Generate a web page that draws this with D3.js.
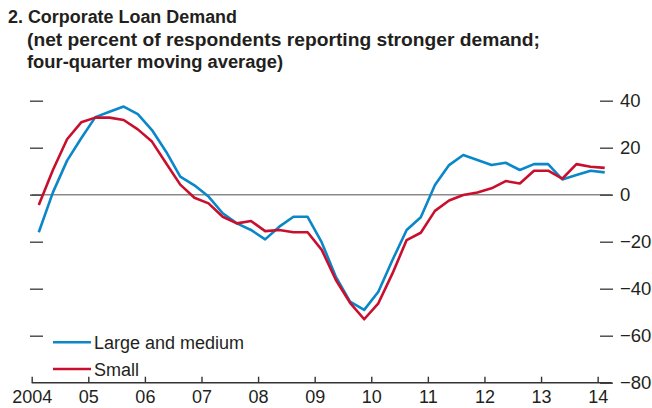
<!DOCTYPE html>
<html>
<head>
<meta charset="utf-8">
<script src="https://cdn.jsdelivr.net/npm/d3@7"></script>
<style>
  body { margin: 0; background: #fff; }
  svg { display: block; font-family: "Liberation Sans", Arial, sans-serif; }
</style>
</head>
<body>
<svg id="svg" width="652" height="408"></svg>
<script>
const quarters = [
  '2004Q1', '2004Q2', '2004Q3', '2004Q4', '2005Q1', '2005Q2', '2005Q3', '2005Q4',
  '2006Q1', '2006Q2', '2006Q3', '2006Q4', '2007Q1', '2007Q2', '2007Q3', '2007Q4',
  '2008Q1', '2008Q2', '2008Q3', '2008Q4', '2009Q1', '2009Q2', '2009Q3', '2009Q4',
  '2010Q1', '2010Q2', '2010Q3', '2010Q4', '2011Q1', '2011Q2', '2011Q3', '2011Q4',
  '2012Q1', '2012Q2', '2012Q3', '2012Q4', '2013Q1', '2013Q2', '2013Q3', '2013Q4',
  '2014Q1'
];

const largeMedium = [
  -16, 1, 14.5, 24, 33, 35.3, 37.5, 34.3,
  27.5, 18.3, 7.7, 4, -0.8, -7.9, -12.2, -15,
  -19, -13.6, -9.4, -9.4, -20.3, -35, -45.5, -49,
  -41.3, -27.8, -15, -9.6, 4.1, 12.6, 16.9, 14.8,
  12.6, 13.6, 10.5, 13, 13, 6.5, 8.4, 10.2,
  9.5
];

const small = [
  -4.4, 10.5, 23.6, 30.8, 32.8, 32.8, 31.8, 27.8,
  22.6, 13.4, 4.3, -1.3, -3.7, -9.4, -12.2, -11.2,
  -15.5, -15, -16, -16, -23.5, -36.3, -46, -53,
  -46.2, -33.5, -19.3, -16.2, -6.9, -2.5, -0.1, 0.9,
  2.7, 5.8, 4.8, 10.2, 10.2, 6.8, 13, 11.9,
  11.4
];

const yearTicks = [2004, 2005, 2006, 2007, 2008, 2009, 2010, 2011, 2012, 2013, 2014];
const yearLabels = ['2004', '05', '06', '07', '08', '09', '10', '11', '12', '13', '14'];
const yTicks = [40, 20, 0, -20, -40, -60, -80];

const seriesNames = ['Large and medium', 'Small'];
const seriesColors = ['#0a87c9', '#c8102e'];

const titleLines = [
  '2. Corporate Loan Demand',
  '(net percent of respondents reporting stronger demand;',
  'four-quarter moving average)'
];

const svg = d3.select('#svg');

// quarter label -> mid-quarter decimal year
const qTime = q => +q.slice(0, 4) + (+q.slice(5) - 0.5) / 4;

const x = d3.scaleLinear().domain([2004, 2014.25]).range([31.7, 611.8]);
const y = d3.scaleLinear().domain([-80, 40]).range([382.7, 100.7]);

// title (condensed face in the original, so stretch to its widths)
const titleLayout = [
  { x: 8, y: 22.5, w: 229 },
  { x: 27, y: 46, w: 513 },
  { x: 27, y: 68, w: 256 }
];
titleLines.forEach((t, i) => {
  svg.append('text')
    .attr('x', titleLayout[i].x).attr('y', titleLayout[i].y)
    .attr('textLength', titleLayout[i].w)
    .attr('lengthAdjust', 'spacingAndGlyphs')
    .style('font-weight', 'bold').style('font-size', '18px').style('fill', '#231f20')
    .text(t);
});

// zero line
svg.append('line')
  .attr('x1', x(2004)).attr('x2', x(2014.25))
  .attr('y1', y(0)).attr('y2', y(0))
  .style('stroke', '#8a8a8a').style('stroke-width', 1.6);

// left tick marks
const leftAxis = d3.axisLeft(y).tickValues(yTicks.filter(d => d > -80)).tickSize(0).tickFormat('');
svg.append('g')
  .attr('transform', 'translate(30,0)')
  .call(leftAxis)
  .call(g => g.select('.domain').remove())
  .call(g => g.selectAll('.tick line').attr('x2', 13).style('stroke', '#444').style('stroke-width', 1.4));

// right axis with labels
const rightAxis = d3.axisRight(y).tickValues(yTicks).tickSize(13).tickPadding(7)
  .tickFormat(d => (d < 0 ? '\u2212' + Math.abs(d) : d));
svg.append('g')
  .attr('transform', 'translate(600,0)')
  .call(rightAxis)
  .call(g => g.select('.domain').remove())
  .call(g => g.selectAll('.tick line').style('stroke', '#444').style('stroke-width', 1.4))
  .call(g => g.selectAll('.tick text')
    .style('font-size', '18.5px').style('fill', '#231f20').style('font-family', '"Liberation Sans", Arial, sans-serif'));

// bottom axis, ticks pointing up
const bottomAxis = d3.axisBottom(x).tickValues(yearTicks).tickSize(0)
  .tickFormat((d, i) => yearLabels[i]);
svg.append('g')
  .attr('transform', 'translate(0,' + y(-80) + ')')
  .call(bottomAxis)
  .call(g => g.select('.domain').attr('d', 'M' + x(2004) + ',0H' + x(2014.25)).style('stroke', '#333').style('stroke-width', 1.4))
  .call(g => g.selectAll('.tick line').attr('y2', -6).style('stroke', '#333').style('stroke-width', 1.4))
  .call(g => g.selectAll('.tick text').attr('y', 8)
    .style('font-size', '18px').style('fill', '#231f20').style('font-family', '"Liberation Sans", Arial, sans-serif'));

// lines
const line = d3.line()
  .x((d, i) => x(qTime(quarters[i])))
  .y(d => y(d));

[largeMedium, small].forEach((s, k) => {
  svg.append('path')
    .datum(s)
    .attr('d', line)
    .style('fill', 'none')
    .style('stroke', seriesColors[k])
    .style('stroke-width', 2.6)
    .style('stroke-linejoin', 'round');
});

// legend
seriesNames.forEach((n, k) => {
  const ly = 342.3 + k * 26.7;
  svg.append('line')
    .attr('x1', 53).attr('x2', 91).attr('y1', ly).attr('y2', ly)
    .style('stroke', seriesColors[k]).style('stroke-width', 2.6);
  svg.append('text')
    .attr('x', 94).attr('y', ly + 6.8)
    .style('font-size', '18px').style('fill', '#231f20')
    .text(n);
});
</script>
</body>
</html>
